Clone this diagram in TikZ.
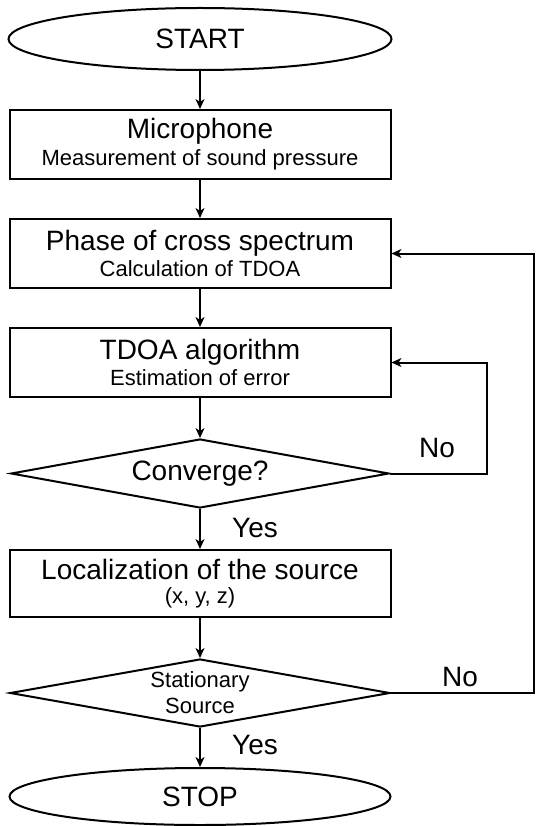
\documentclass[tikz,border=0pt]{standalone}
\usepackage{fontspec}
\setmainfont{Liberation Sans}
\usetikzlibrary{shapes.geometric,arrows.meta}

\newcommand{\bigtxt}{\fontsize{28pt}{30pt}\selectfont}
\newcommand{\smalltxt}{\fontsize{22pt}{24pt}\selectfont}

\begin{document}
\begin{tikzpicture}[x=1pt,y=-1pt,
  box/.style={draw,line width=2pt,minimum width=381pt,minimum height=69pt,inner sep=0pt,align=center},
  term/.style={draw,ellipse,line width=2pt,inner sep=0pt,font=\bigtxt},
  decide/.style={draw,diamond,aspect=5.5,line width=2pt,inner sep=0pt,align=center},
  arrow/.style={line width=2pt,-{Stealth[length=10pt,width=9pt,inset=3pt]}},
  lbl/.style={font=\bigtxt}]
\useasboundingbox (0,0) rectangle (535,826);
\node[term,minimum width=383pt,minimum height=62pt] (start) at (200,39) {START};
\node[box] (mic) at (200,144.5) {\bigtxt Microphone\\[4pt]\smalltxt Measurement of sound pressure};
\node[box] (phase) at (200,253.5) {\bigtxt Phase of cross spectrum\\[3pt]\smalltxt Calculation of TDOA};
\node[box] (tdoa) at (200,362.5) {\bigtxt TDOA algorithm\\[3pt]\smalltxt Estimation of error};
\node[decide,minimum width=378pt,minimum height=69pt,font=\bigtxt] (conv) at (200,473.5) {Converge?};
\node[box,minimum height=67pt] (loc) at (200,583.5) {\bigtxt Localization of the source\\[7pt]\smalltxt (x, y, z)};
\node[decide,minimum width=380pt,minimum height=68pt,font=\smalltxt] (stat) at (200,693) {Stationary\\[2pt]Source};
\node[term,minimum width=381pt,minimum height=57pt] (stop) at (200,796.5) {STOP};
\node[lbl] (no1) at (437,448) {No};
\node[lbl] (yes1) at (255,528) {Yes};
\node[lbl] (no2) at (460,677) {No};
\node[lbl] (yes2) at (255,745) {Yes};
\draw[arrow] (start) -- (mic);
\draw[arrow] (mic) -- (phase);
\draw[arrow] (phase) -- (tdoa);
\draw[arrow] (tdoa) -- (conv);
\draw[arrow] (conv) -- (loc);
\draw[arrow] (loc) -- (stat);
\draw[arrow] (stat) -- (stop);
\draw[arrow] (conv.east) -- ++(97,0) |- (tdoa.east);
\draw[arrow] (stat.east) -- ++(143,0) |- (phase.east);
\end{tikzpicture}
\end{document}
